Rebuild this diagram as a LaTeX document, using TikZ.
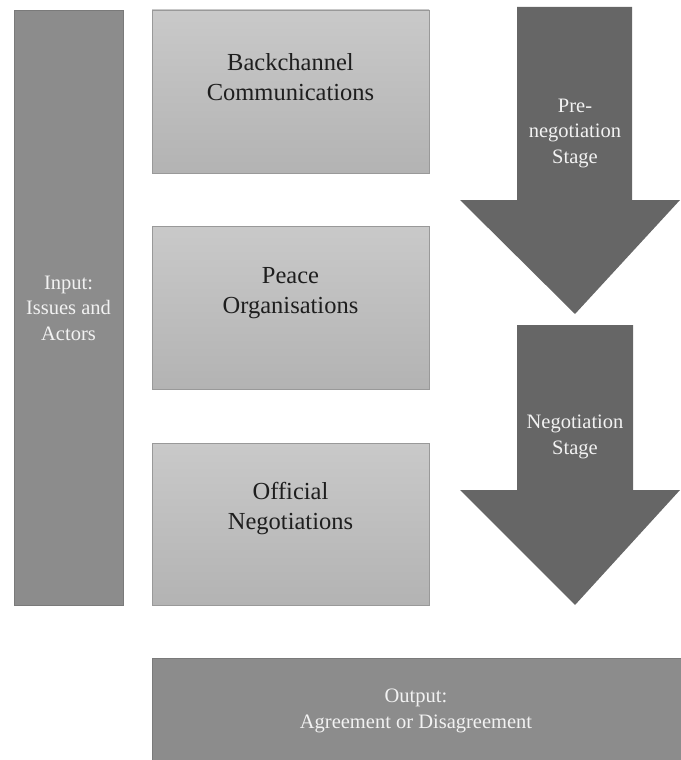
\documentclass[tikz,border=0pt]{standalone}
\usepackage{fontspec}
\setmainfont{LiberationSerif-Regular.ttf}
\definecolor{bardark}{HTML}{8C8C8C}
\definecolor{barline}{HTML}{7A7A7A}
\definecolor{arrowgray}{HTML}{666666}
\definecolor{boxtop}{HTML}{C9C9C9}
\definecolor{boxbot}{HTML}{B3B3B3}
\definecolor{boxline}{HTML}{999999}
\definecolor{darktext}{HTML}{1E1E1E}
\definecolor{lighttext}{HTML}{F2F2F2}
\tikzset{
  darkbar/.style={draw=barline, line width=0.8pt, fill=bardark},
  lightbox/.style={draw=boxline, line width=0.8pt, top color=boxtop, bottom color=boxbot},
  bigtxt/.style={align=center, text=darktext, font=\fontsize{24.5}{30}\selectfont, inner sep=0pt},
  smalltxt/.style={align=center, text=lighttext, font=\fontsize{20.5}{25.5}\selectfont, inner sep=0pt},
  stagearrow/.style={fill=arrowgray}
}
\begin{document}
\begin{tikzpicture}[x=1pt,y=-1pt]
\useasboundingbox (0,0) rectangle (680,760);
% left input bar
\draw[darkbar] (14,10) rectangle (123,605);
\node[smalltxt] (input) at (68.5,308) {Input:\\Issues and\\Actors};
% boxes
\draw[lightbox] (152,10) rectangle (429,173);
\node[bigtxt] (back) at (290.5,77) {Backchannel\\Communications};
\draw[lightbox] (152,226) rectangle (429,389);
\node[bigtxt] (peace) at (290.5,293) {Peace\\Organisations};
\draw[lightbox] (152,443) rectangle (429,605);
\node[bigtxt] (official) at (290.5,509) {Official\\Negotiations};
% arrows
\fill[stagearrow] (517,7) -- (632,7) -- (632,200) -- (680,200) -- (575,314) -- (460,200) -- (517,200) -- cycle;
\node[smalltxt] (pre) at (575,133) {Pre-\\negotiation\\Stage};
\fill[stagearrow] (517,325) -- (633,325) -- (633,490) -- (680,490) -- (575,605) -- (460,490) -- (517,490) -- cycle;
\node[smalltxt] (neg) at (575,437) {Negotiation\\Stage};
% output
\draw[darkbar] (152,658) rectangle (681,761);
\node[smalltxt] (output) at (416,711) {Output:\\Agreement or Disagreement};
\end{tikzpicture}
\end{document}
